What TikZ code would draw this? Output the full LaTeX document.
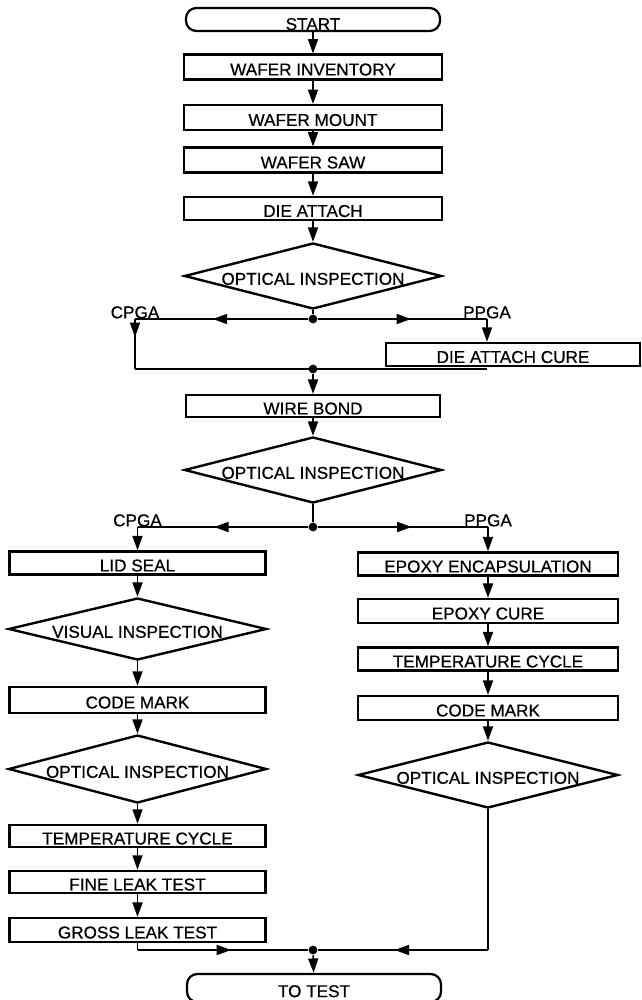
\documentclass[tikz,border=0pt]{standalone}
\usepackage{fontspec}
\setmainfont[FakeBold=0.6]{Liberation Sans}
\usetikzlibrary{arrows.meta, shapes.geometric, decorations.markings}

\begin{document}
\begin{tikzpicture}[x=0.025cm, y=-0.025cm, >={Triangle[length=3.6mm, width=2.5mm]}, line width=1.2pt,
	every node/.style={font=\fontsize{12.2}{14}\selectfont},
	box/.style={draw, line width=1.6pt, inner sep=0pt, minimum height=0.62cm, text height=12pt, text depth=0pt},
	term/.style={box, rounded corners=0.26cm, text height=15pt},
	dec/.style={draw, diamond, aspect=4, line width=1.7pt, inner sep=0pt, text height=12.5pt, text depth=0pt},
	dot/.style={circle, fill, inner sep=0pt, minimum size=0.22cm},
	lbl/.style={anchor=base, inner sep=0pt, yshift=0.5pt},
	midarrow/.style={postaction={decorate}, decoration={markings, mark=at position #1 with {\arrow{>}}}},
	midarrow/.default=0.55]
	\useasboundingbox (0,0) rectangle (641,1000);
	\clip (0,0) rectangle (641,1000);

	\node[term, minimum width=6.35cm, minimum height=0.575cm] (start) at (313,19.5) {START};
	\node[box, minimum width=6.45cm] (inv) at (313,67) {WAFER INVENTORY};
	\node[box, minimum width=6.45cm] (mount) at (313,117.5) {WAFER MOUNT};
	\node[box, minimum width=6.45cm] (saw) at (313,160) {WAFER SAW};
	\node[box, minimum width=6.45cm, minimum height=0.58cm] (attach) at (313,208.5) {DIE ATTACH};
	\node[dec, minimum width=6.43cm, minimum height=1.65cm] (oi1) at (313,276) {OPTICAL INSPECTION};
	\node[dot] (d1) at (313,319) {};
	\coordinate (c1l) at (135,319);
	\coordinate (c1r) at (487,319);
	\node[lbl] (cpga1) at (c1l) {CPGA};
	\node[lbl] (ppga1) at (c1r) {PPGA};
	\node[box, minimum width=6.33cm, minimum height=0.58cm] (cure) at (513,354.5) {DIE ATTACH CURE};
	\coordinate (m1l) at (135,369);
	\node[dot] (d2) at (313,369) {};
	\coordinate (m1r) at (487,369);
	\node[box, minimum width=6.33cm, minimum height=0.55cm] (bond) at (313,406) {WIRE BOND};
	\node[dec, minimum width=6.43cm, minimum height=1.65cm] (oi2) at (313,470) {OPTICAL INSPECTION};
	\node[dot] (d3) at (313,527) {};
	\coordinate (c2l) at (137.5,527);
	\coordinate (c2r) at (488,527);
	\node[lbl] (cpga2) at (c2l) {CPGA};
	\node[lbl] (ppga2) at (c2r) {PPGA};

	\node[box, minimum width=6.4cm, minimum height=0.58cm] (lid) at (137.5,563) {LID SEAL};
	\node[dec, minimum width=6.45cm, minimum height=1.55cm] (visual) at (137.5,629) {VISUAL INSPECTION};
	\node[box, minimum width=6.4cm, minimum height=0.66cm] (codel) at (137.5,700) {CODE MARK};
	\node[dec, minimum width=6.45cm, minimum height=1.7cm] (oil) at (137.5,769) {OPTICAL INSPECTION};
	\node[box, minimum width=6.4cm, minimum height=0.56cm] (templ) at (137.5,836) {TEMPERATURE CYCLE};
	\node[box, minimum width=6.4cm, minimum height=0.56cm] (fine) at (137.5,882) {FINE LEAK TEST};
	\node[box, minimum width=6.4cm, minimum height=0.6cm] (gross) at (137.5,930) {GROSS LEAK TEST};

	\node[box, minimum width=6.48cm, minimum height=0.58cm] (epoxy) at (488,564) {EPOXY ENCAPSULATION};
	\node[box, minimum width=6.48cm, minimum height=0.6cm] (ecure) at (488,611) {EPOXY CURE};
	\node[box, minimum width=6.48cm, minimum height=0.58cm] (tempr) at (488,659) {TEMPERATURE CYCLE};
	\node[box, minimum width=6.48cm, minimum height=0.6cm] (coder) at (488,708) {CODE MARK};
	\node[dec, minimum width=6.5cm, minimum height=1.65cm] (oir) at (488,775) {OPTICAL INSPECTION};

	\coordinate (m2l) at (137.5,950);
	\node[dot] (d4) at (313,950) {};
	\coordinate (m2r) at (488,950);
	\node[term, minimum width=6.35cm, minimum height=0.7cm, text height=13pt] (totest) at (314,988) {TO TEST};

	\draw[->] (start) -- (inv);
	\draw[->] (inv) -- (mount);
	\draw[->] (mount) -- (saw);
	\draw[->] (saw) -- (attach);
	\draw[->] (attach) -- (oi1);
	\draw (oi1) -- (d1);
	\draw[midarrow] (d1) -- (c1l);
	\draw[midarrow] (d1) -- (c1r);
	\draw[midarrow=0.36] (c1l) -- (m1l);
	\draw[->] (c1r) -- (c1r |- cure.north);
	\draw (m1l) -- (m1r);
	\draw[->] (d2) -- (bond);
	\draw[->] (bond) -- (oi2);
	\draw (oi2) -- (d3);
	\draw[midarrow] (d3) -- (c2l);
	\draw[midarrow] (d3) -- (c2r);
	\draw[->] (c2l) -- (lid);
	\draw[->] (c2r) -- (epoxy);

	\draw[->] (lid) -- (visual);
	\draw[->] (visual) -- (codel);
	\draw[->] (codel) -- (oil);
	\draw[->] (oil) -- (templ);
	\draw[->] (templ) -- (fine);
	\draw[->] (fine) -- (gross);
	\draw (gross) -- (m2l);
	\draw[midarrow] (m2l) -- (d4);

	\draw[->] (epoxy) -- (ecure);
	\draw[->] (ecure) -- (tempr);
	\draw[->] (tempr) -- (coder);
	\draw[->] (coder) -- (oir);
	\draw (oir) -- (m2r);
	\draw[midarrow] (m2r) -- (d4);
	\draw[->] (d4) -- (totest);
\end{tikzpicture}
\end{document}
